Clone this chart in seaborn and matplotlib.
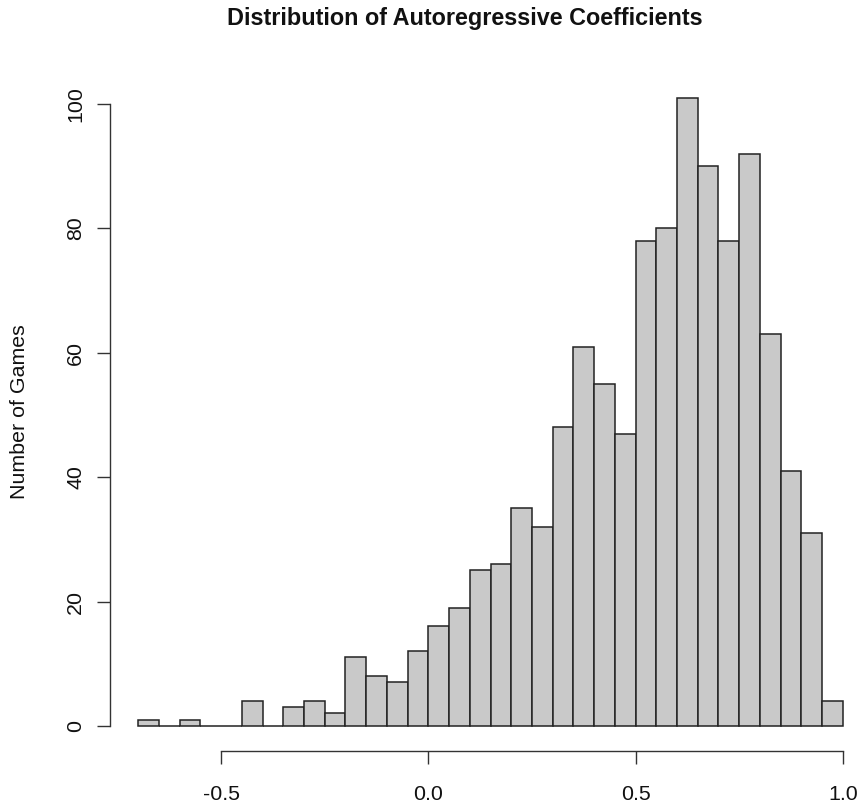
import numpy as np
import pandas as pd
import matplotlib
matplotlib.use("Agg")
import matplotlib.pyplot as plt
import seaborn as sns

# Data (bin width 0.05, from -0.70 to 1.00)
bin_left = [-0.70, -0.65, -0.60, -0.55, -0.50, -0.45, -0.40, -0.35, -0.30, -0.25,
            -0.20, -0.15, -0.10, -0.05, 0.00, 0.05, 0.10, 0.15, 0.20, 0.25,
            0.30, 0.35, 0.40, 0.45, 0.50, 0.55, 0.60, 0.65, 0.70, 0.75,
            0.80, 0.85, 0.90, 0.95]
counts = [1, 0, 1, 0, 0, 4, 0, 3, 4, 2,
          11, 8, 7, 12, 16, 19, 25, 26, 35, 32,
          48, 61, 55, 47, 78, 80, 101, 90, 78, 92,
          63, 41, 31, 4]
bin_width = 0.05
x_ticks = [-0.5, 0.0, 0.5, 1.0]
x_tick_labels = ["-0.5", "0.0", "0.5", "1.0"]
y_ticks = [0, 20, 40, 60, 80, 100]
title = "Distribution of Autoregressive Coefficients"
ylabel = "Number of Games"

df = pd.DataFrame({"center": np.array(bin_left) + bin_width / 2, "count": counts})
edges = list(bin_left) + [bin_left[-1] + bin_width]

sns.set_style("white")
plt.rcParams["font.family"] = ["Liberation Sans", "DejaVu Sans"]

W, H = 860, 808
fig = plt.figure(figsize=(W / 100, H / 100), dpi=100)
left, right, top, bottom = 110, 871, 72.7, 751
ax = fig.add_axes([left / W, (H - bottom) / H, (right - left) / W, (bottom - top) / H])

sns.histplot(data=df, x="center", weights="count", bins=edges, ax=ax,
             color="#c9c9c9", edgecolor="#222222", linewidth=1.1, alpha=1.0)

lo, hi = -0.70, 1.0
pad = (hi - lo) * 0.04
ax.set_xlim(lo - pad, hi + pad)
ypad = 101 * 0.04
ax.set_ylim(-ypad, 101 + ypad)

ax.set_xticks(x_ticks)
ax.set_xticklabels(x_tick_labels)
ax.set_yticks(y_ticks)
ax.set_yticklabels([str(v) for v in y_ticks], rotation=90, va="center")

for s in ["top", "right"]:
    ax.spines[s].set_visible(False)
ax.spines["bottom"].set_bounds(x_ticks[0], x_ticks[-1])
ax.spines["left"].set_bounds(y_ticks[0], y_ticks[-1])
for s in ["bottom", "left"]:
    ax.spines[s].set_color("#333333")
    ax.spines[s].set_linewidth(1.0)

ax.tick_params(axis="both", which="major", bottom=True, left=True,
               direction="out", length=9.4, width=1.0, color="#333333",
               labelsize=15.4, labelcolor="#111111")
ax.tick_params(axis="x", pad=15)
ax.tick_params(axis="y", pad=8.5)

ax.set_xlabel("")
ax.set_ylabel(ylabel, fontsize=15.4, color="#111111")
ax.yaxis.set_label_coords((29 - left) / (right - left), 0.5)

fig.text(465 / W, 1 - 18 / H, title, ha="center", va="center",
         fontsize=16.8, fontweight="bold", color="#111111")

fig.savefig("out.png", dpi=100)
